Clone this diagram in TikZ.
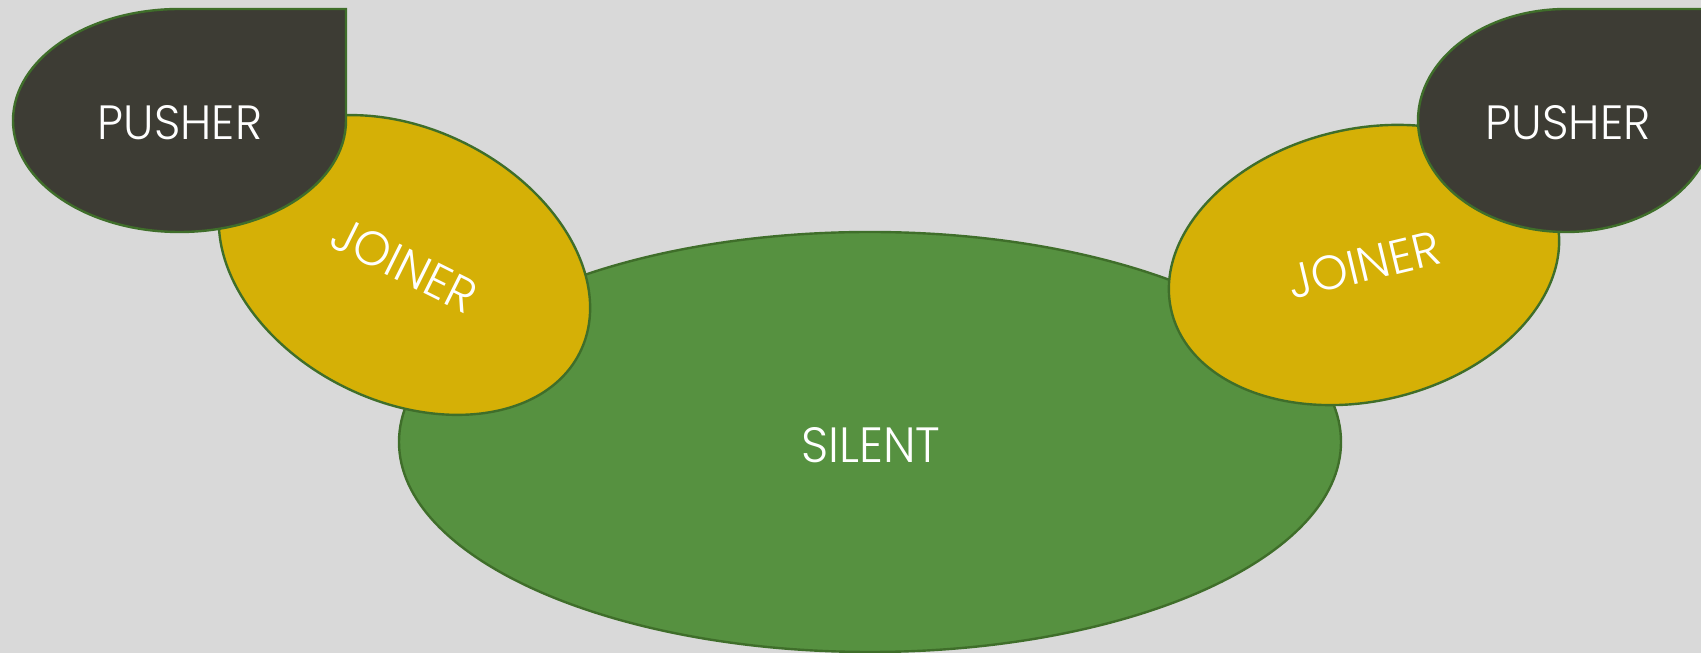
\documentclass[tikz,border=0pt]{standalone}
\usepackage{fontspec}
\setsansfont{Poppins Light}
\usetikzlibrary{shapes.geometric}
\definecolor{bg}{HTML}{D9D9D9}
\definecolor{silentgreen}{HTML}{569140}
\definecolor{joinyellow}{HTML}{D5B006}
\definecolor{pushdark}{HTML}{3D3C34}
\definecolor{edgegreen}{HTML}{3F6E2A}
\tikzset{
  blob/.style={draw=edgegreen, line width=2.4pt},
  lbl/.style={text=white, font=\sffamily, inner sep=0pt},
  oval/.style={blob, ellipse, inner sep=0pt, text=white, font=\sffamily}
}
\begin{document}
\begin{tikzpicture}[x=1pt,y=1pt]
\useasboundingbox (0,0) rectangle (1701,653);
\clip (0,0) rectangle (1701,653);
\fill[bg] (0,0) rectangle (1701,653);
% silent
\node[oval, fill=silentgreen, minimum width=942pt, minimum height=420pt] (silent) at (870,211) {};
\node[lbl] (silenttext) at (871,208) {\resizebox{139pt}{35pt}{SILENT}};
% joiners
\node[oval, fill=joinyellow, minimum width=392pt, minimum height=272pt, rotate=-26.5] (joinL) at (404.5,388) {\resizebox{155pt}{34pt}{JOINER}};
\node[oval, fill=joinyellow, minimum width=396pt, minimum height=272pt, rotate=13.5] (joinR) at (1364,388) {\resizebox{155pt}{34pt}{JOINER}};
% pushers
\path[blob, fill=pushdark] (179.5,644) -- (346,644) -- (346,532.5)
  arc[start angle=0, end angle=-270, x radius=166.5, y radius=111.5] -- cycle;
\path[blob, fill=pushdark] (1566,644) -- (1714,644) -- (1714,532.5)
  arc[start angle=0, end angle=-270, x radius=148, y radius=111.5] -- cycle;
\node[lbl] (pushL) at (180,530) {\resizebox{164pt}{34pt}{PUSHER}};
\node[lbl] (pushR) at (1568,530) {\resizebox{165pt}{34pt}{PUSHER}};
\end{tikzpicture}
\end{document}
